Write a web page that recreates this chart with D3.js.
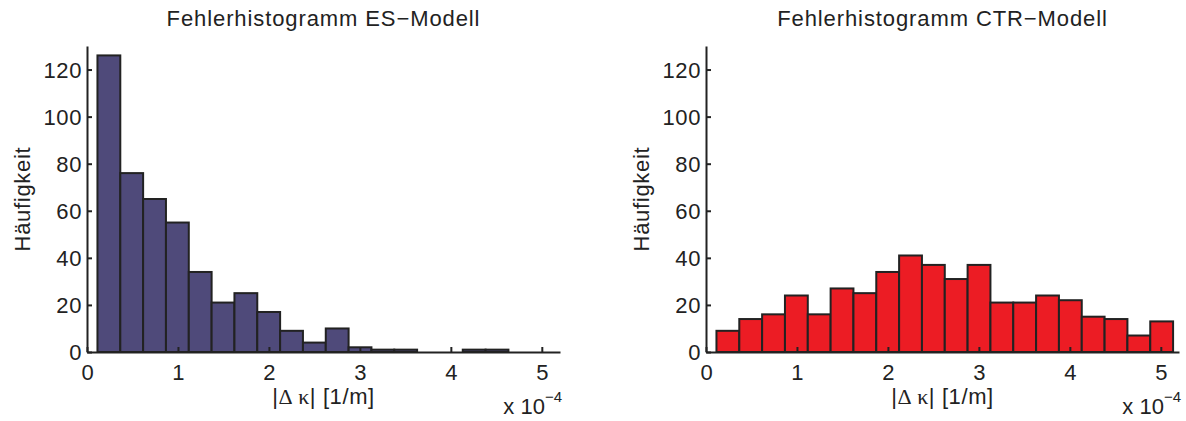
<!DOCTYPE html>
<html>
<head>
<meta charset="utf-8">
<script src="https://cdn.jsdelivr.net/npm/d3@7"></script>
<style>
  html, body { margin: 0; padding: 0; background: #fff; }
  svg { display: block; }
  text { font-family: "Liberation Sans", Arial, Helvetica, sans-serif; fill: #222; }
  .sym { font-family: "Liberation Serif", "DejaVu Serif", serif; }
</style>
</head>
<body>
<svg id="chart" width="1186" height="421"></svg>
<script>
// Histogram bins (|Δκ| in units of 1e-4 1/m)
const binStart = 0.115;
const binWidth = 0.251;

// Counts per bin
const countsES  = [126, 76, 65, 55, 34, 21, 25, 17, 9, 4, 10, 2, 1, 1, 0, 0, 1, 1, 0, 0];
const countsCTR = [9, 14, 16, 24, 16, 27, 25, 34, 41, 37, 31, 37, 21, 21, 24, 22, 15, 14, 7, 13];

const xTicks = [0, 1, 2, 3, 4, 5];
const yTicks = [0, 20, 40, 60, 80, 100, 120];

const panels = [
  { title: "Fehlerhistogramm ES\u2212Modell",  counts: countsES,  color: "#4f4a7a", left: 87 },
  { title: "Fehlerhistogramm CTR\u2212Modell", counts: countsCTR, color: "#ec1c24", left: 706 }
];

const svg = d3.select("#chart");
const plotW = 473, plotTop = 46, plotBottom = 352;
const fs = 22;
const ink = "#222";

panels.forEach(p => {
  const x = d3.scaleLinear().domain([0, 5.2]).range([p.left, p.left + plotW]);
  const y = d3.scaleLinear().domain([0, 130]).range([plotBottom, plotTop]);
  const g = svg.append("g");

  const bins = p.counts.map((c, i) => ({
    x0: binStart + i * binWidth,
    x1: binStart + (i + 1) * binWidth,
    c
  }));

  // bars
  g.selectAll("rect.bar").data(bins.filter(b => b.c > 0)).join("rect")
    .attr("class", "bar")
    .attr("x", d => x(d.x0))
    .attr("width", d => x(d.x1) - x(d.x0))
    .attr("y", d => y(d.c))
    .attr("height", d => y(0) - y(d.c))
    .attr("fill", p.color)
    .attr("stroke", ink)
    .attr("stroke-width", 2);

  // y axis (ticks pointing inward)
  const yAxis = d3.axisLeft(y).tickValues(yTicks).tickSizeInner(-5).tickSizeOuter(0);
  const ya = g.append("g").attr("transform", `translate(${p.left},0)`).call(yAxis);
  ya.select(".domain").attr("stroke", ink).attr("stroke-width", 2);
  ya.selectAll(".tick line").attr("stroke", ink).attr("stroke-width", 2);
  ya.selectAll(".tick text").attr("font-size", fs).attr("font-family", null)
    .attr("x", -5).attr("dy", "0.36em").style("letter-spacing", "0.6px");

  // x axis (ticks pointing inward)
  const xAxis = d3.axisBottom(x).tickValues(xTicks).tickSizeInner(-5).tickSizeOuter(0).tickFormat(d3.format("d"));
  const xa = g.append("g").attr("transform", `translate(0,${plotBottom})`).call(xAxis);
  xa.select(".domain").attr("stroke", ink).attr("stroke-width", 2);
  xa.selectAll(".tick line").attr("stroke", ink).attr("stroke-width", 2);
  xa.selectAll(".tick text").attr("font-size", fs).attr("font-family", null)
    .attr("y", 28).attr("dy", 0);

  const cx = p.left + plotW / 2;

  // title
  g.append("text").attr("x", cx).attr("y", 26).attr("text-anchor", "middle")
    .attr("font-size", fs).style("letter-spacing", "0.9px").text(p.title);

  // x label with Greek symbols set in a serif face
  const xl = g.append("text").attr("x", cx).attr("y", 404).attr("text-anchor", "middle")
    .attr("font-size", fs).style("letter-spacing", "0.6px");
  xl.append("tspan").text("|");
  xl.append("tspan").attr("class", "sym").text("\u0394 \u03ba");
  xl.append("tspan").text("| [1/m]");

  // y label
  g.append("text").attr("transform", `translate(${p.left - 57},${(plotTop + plotBottom) / 2}) rotate(-90)`)
    .attr("text-anchor", "middle").attr("font-size", fs).style("letter-spacing", "0.7px").text("H\u00e4ufigkeit");

  // exponent note
  const ex = g.append("text").attr("x", p.left + plotW + 2).attr("y", 414).attr("text-anchor", "end")
    .attr("font-size", fs);
  ex.append("tspan").text("x 10");
  ex.append("tspan").attr("font-size", 15).attr("dy", -12).text("\u22124");
});
</script>
</body>
</html>
